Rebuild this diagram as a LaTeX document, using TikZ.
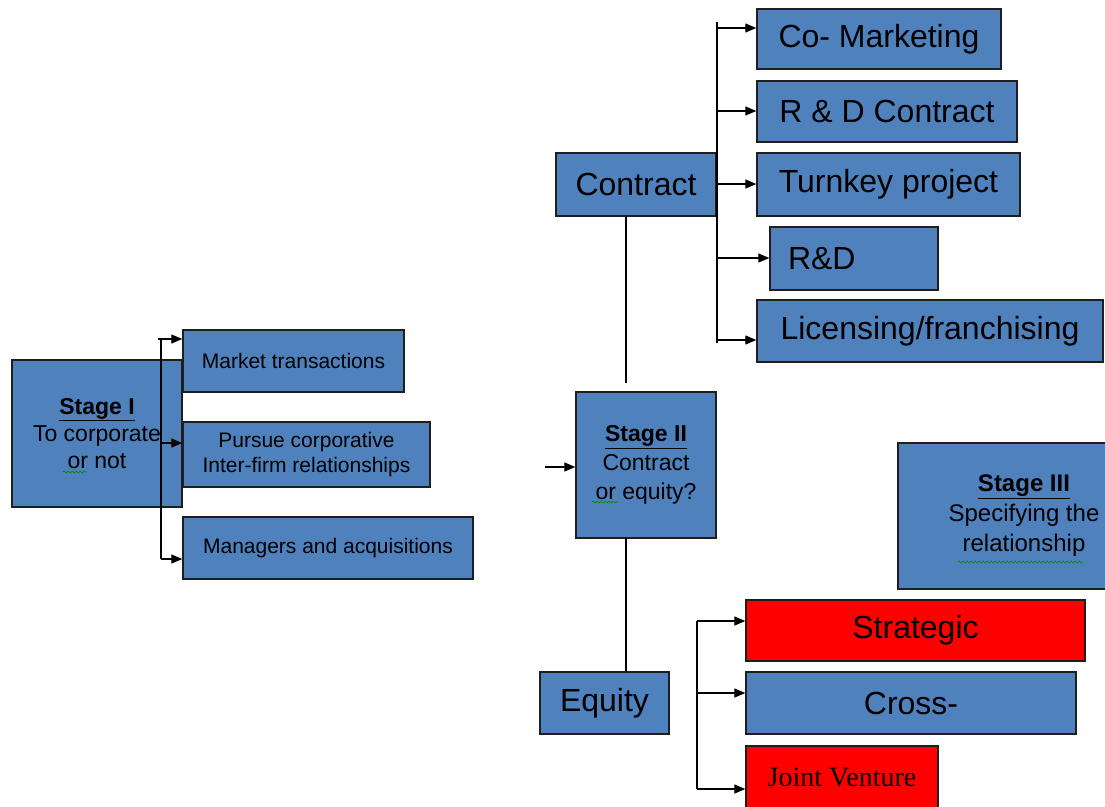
\documentclass[tikz,border=0pt]{standalone}
\usepackage{fontspec}
\setmainfont{Liberation Sans}
\newfontfamily\jvfont{Liberation Serif}
\usetikzlibrary{arrows.meta,decorations.pathmorphing}
\definecolor{boxblue}{HTML}{4F81BD}
\definecolor{boxred}{HTML}{FF0000}
\definecolor{edgegray}{HTML}{1E1E1E}

\begin{document}
\begin{tikzpicture}[x=1pt,y=-1pt,
  box/.style={draw=edgegray, line width=1.4pt, fill=boxblue, inner sep=0pt,
              text=black, align=center},
  redbox/.style={box, fill=boxred},
  link/.style={line width=1.3pt, draw=black},
  arr/.style={link, -{Triangle[length=11pt,width=9pt]}},
  spell/.style={draw=green!55!black, line width=0.7pt, decorate,
                decoration={snake, amplitude=0.9pt, segment length=4pt}},
  big/.style={font=\fontsize{32}{36}\selectfont},
  mid/.style={font=\fontsize{21}{25}\selectfont}
]
\fill[white] (0,0) rectangle (1105,806);
\useasboundingbox (0,0) rectangle (1105,806);

% ---------- Stage I ----------
\node[box, minimum width=170pt, minimum height=147pt,
      font=\fontsize{23}{27}\selectfont] (s1) at (97,433.5)
      {\underline{\textbf{Stage I}}\\To corporate\\or not};
\node[box, mid, minimum width=221pt, minimum height=62pt] (mkt) at (293.5,361)
      {Market transactions};
\node[box, mid, minimum width=247pt, minimum height=65pt] (pur) at (306.5,454.5)
      {Pursue corporative\\Inter-firm relationships};
\node[box, mid, minimum width=290pt, minimum height=62pt] (mgr) at (328,548)
      {Managers and acquisitions};

% ---------- Stage II ----------
\node[box, minimum width=140pt, minimum height=146pt,
      font=\fontsize{23}{29}\selectfont] (s2) at (646,465)
      {\underline{\textbf{Stage II}}\\Contract\\or equity?};
\node[box, big, minimum width=160pt, minimum height=63pt] (ctr) at (636,184.5)
      {Contract};
\node[box, big, minimum width=129pt, minimum height=62pt] (eq) at (604.5,703)
      {Equity};

% ---------- contract forms ----------
\node[box, big, minimum width=244pt, minimum height=60pt] (comk) at (879,39)
      {Co- Marketing};
\node[box, big, minimum width=260pt, minimum height=61pt] (rdc) at (887,111.5)
      {R \& D Contract};
\node[box, big, minimum width=263pt, minimum height=63pt] (turn) at (888.5,184.5)
      {Turnkey project};
\node[box, big, minimum width=168pt, minimum height=63pt, text width=132pt,
      align=left] (rd) at (854,258.5) {R\&D};
\node[box, big, minimum width=346pt, minimum height=62pt] (lic) at (930,331)
      {Licensing/franchising};

% ---------- Stage III ----------
\node[box, minimum width=252pt, minimum height=146pt,
      font=\fontsize{24}{30}\selectfont] (s3) at (1024,516)
      {\underline{\textbf{Stage III}}\\Specifying the\\relationship};

% ---------- equity forms ----------
\node[redbox, big, minimum width=339pt, minimum height=61pt] (strat) at (915.5,630.5)
      {Strategic};
\node[box, big, minimum width=330pt, minimum height=62pt] (cross) at (911,703)
      {Cross-};
\node[redbox, minimum width=192pt, minimum height=62pt,
      font=\jvfont\fontsize{28}{32}\selectfont] (jv) at (842,777)
      {Joint Venture};

% ---------- Stage I branches ----------
\coordinate (b1top) at (161,339);
\coordinate (b1mid) at (161,443);
\coordinate (b1bot) at (161,559);
\draw[link] (b1top) -- (b1bot);
\draw[arr] ([xshift=-3pt]b1top) -- (b1top -| mkt.west);
\draw[arr] (b1mid) -- (b1mid -| pur.west);
\draw[arr] (b1bot) -- (b1bot -| mgr.west);

% ---------- Stage II links ----------
\coordinate (s2in) at (545,467);
\draw[arr] (s2in) -- (s2in -| s2.west);
\coordinate (s2up) at (626,383);
\draw[link] (s2up) -- (s2up |- ctr.south);
\coordinate (s2dn) at (626,538);
\draw[link] (s2dn) -- (s2dn |- eq.north);

% ---------- contract branches ----------
\coordinate (c1) at (717,28);
\coordinate (c2) at (717,111);
\coordinate (c3) at (717,184);
\coordinate (c4) at (717,258);
\coordinate (c5) at (717,340);
\draw[link] (717,22) -- (717,343);
\draw[arr] (c1) -- (c1 -| comk.west);
\draw[arr] (c2) -- (c2 -| rdc.west);
\draw[arr] (c3) -- (c3 -| turn.west);
\draw[arr] (c4) -- (c4 -| rd.west);
\draw[arr] (c5) -- (c5 -| lic.west);

% ---------- equity branches ----------
\coordinate (e1) at (697,621);
\coordinate (e2) at (697,693);
\coordinate (e3) at (697,789);
\draw[link] (e1) -- (e3);
\draw[arr] (e1) -- (e1 -| strat.west);
\draw[arr] (e2) -- (e2 -| cross.west);
\draw[arr] (e3) -- (e3 -| jv.west);

% ---------- proofing marks ----------
\draw[spell] (63,472) -- (87,472);
\draw[spell] (592,502) -- (618,502);
\draw[spell] (958,562) -- (1083,562);
\end{tikzpicture}
\end{document}
